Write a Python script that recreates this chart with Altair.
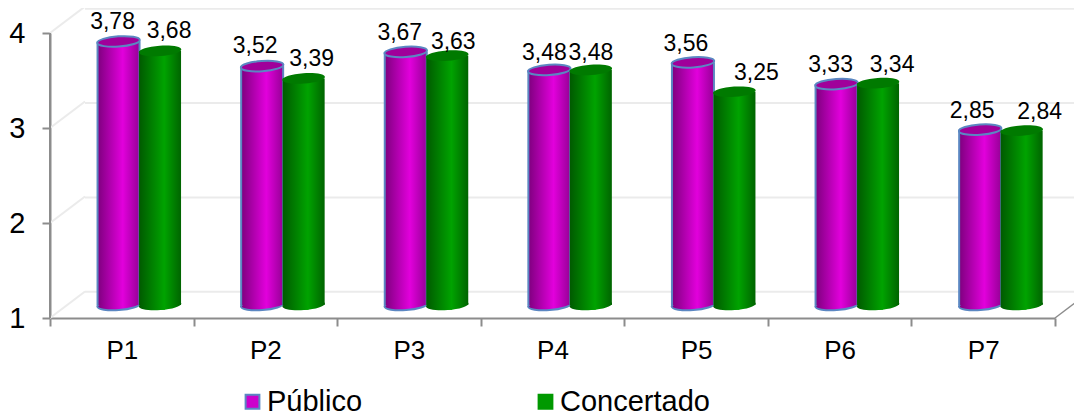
import altair as alt
import pandas as pd

categories = ["P1", "P2", "P3", "P4", "P5", "P6", "P7"]
publico = [3.78, 3.52, 3.67, 3.48, 3.56, 3.33, 2.85]
concertado = [3.68, 3.39, 3.63, 3.48, 3.25, 3.34, 2.84]
y_ticks = [1, 2, 3, 4]
series_names = ["Público", "Concertado"]

# layout (pixels inside the plot area)
W, H = 1024, 310
STEP = 143.6
FONT = "Liberation Sans"
GREY = "#8C8C8C"
OUTLINE = "#5B87C2"
pub_dx = [-6, -7, -6, -5, -7, -6, -8]
con_dx = [9, 8, 6, 0, 22, 14, 18]
pub_dy = [12, 13, 12, 10, 11, 12, 12]
con_dy = [13, 12, 7, 10, 12, 11, 12]


def grad(edge_l, mid, edge_r):
    return alt.LinearGradient(
        gradient="linear", x1=0, x2=1, y1=0, y2=0,
        stops=[alt.GradientStop(offset=0, color=edge_l),
               alt.GradientStop(offset=0.6, color=mid),
               alt.GradientStop(offset=1, color=edge_r)])


rows = []
for s, vals, shift, dxs, dys in [("Público", publico, -20.75, pub_dx, pub_dy),
                                 ("Concertado", concertado, 20.75, con_dx, con_dy)]:
    for i, v in enumerate(vals):
        c = i + 0.5 + (17.5 + shift) / STEP
        rows.append(dict(cat=categories[i], series=s, v=v, base=1, c=c,
                         l=c - 21 / STEP, r=c + 21 / STEP,
                         lx=c + dxs[i] / STEP,
                         ly=v + dys[i] / 94.8,
                         label=f"{v:.2f}".replace(".", ",")))
df = pd.DataFrame(rows)
pub = df[df.series == "Público"]
con = df[df.series == "Concertado"]

xs = alt.Scale(domain=[0, W / STEP], range=[0, W], nice=False)
front = alt.Scale(domain=[1, 4], range=[310, 25], nice=False)
bar_y = alt.Scale(domain=[1, 4], range=[297, 12.6], nice=False)
wall = alt.Scale(domain=[1, 4], range=[283.7, 0.8], nice=False)
ELL = "M-1,0A1,0.24,0,1,1,1,0A1,0.24,0,1,1,-1,0Z"

ticks = pd.DataFrame({"t": y_ticks})
ticks["t2"] = ticks["t"] + 26.5 / 95
ticks["top"] = 4

legend = alt.Legend(title=None, orient="none", legendX=188, legendY=379, direction="horizontal",
                    columns=2, columnPadding=168, labelFontSize=29, labelFont=FONT,
                    labelColor="#000", symbolSize=190, symbolStrokeWidth=2, symbolType="square",
                    labelOffset=0)

layers = []
# back wall
layers.append(alt.Chart(ticks).mark_rule(color="#EBEBEB", strokeWidth=2).encode(
    x=alt.value(35), x2=alt.value(W),
    y=alt.Y("t:Q", scale=wall, axis=None)))
# side wall diagonals
layers.append(alt.Chart(ticks).mark_rule(color="#EBEBEB", strokeWidth=2).encode(
    x=alt.value(0), x2=alt.value(35),
    y=alt.Y("t:Q", scale=front, axis=None), y2="t2:Q"))
# floor right diagonal
layers.append(alt.Chart(ticks[ticks.t == 1]).mark_rule(color=GREY, strokeWidth=1.5).encode(
    x=alt.value(1005), x2=alt.value(W + 16),
    y=alt.Y("t:Q", scale=front, axis=None), y2="t2:Q"))
# axes
layers.append(alt.Chart(ticks).mark_rule(opacity=0).encode(
    x=alt.X("cat:N", scale=alt.Scale(domain=categories, range=[0, 1005], paddingInner=0, paddingOuter=0),
            axis=alt.Axis(title=None, tickBand="extent", labelAngle=0, labelFontSize=26, labelFont=FONT,
                          labelColor="#000", labelPadding=11, domainColor=GREY, tickColor=GREY,
                          domainWidth=2, tickWidth=2, tickSize=8, grid=False)),
    y=alt.Y("t:Q", scale=front,
            axis=alt.Axis(title=None, values=y_ticks, format="d", labelFontSize=29, labelFont=FONT,
                          labelColor="#000", labelPadding=17, domainColor=GREY, tickColor=GREY,
                          domainWidth=2, tickWidth=2, tickSize=8, grid=False)),
).transform_calculate(cat="'P1'"))
# y axis line
layers.append(alt.Chart(ticks[ticks.t == 1]).mark_rule(color=GREY, strokeWidth=2).encode(
    x=alt.value(0),
    y=alt.Y("t:Q", scale=front, axis=None), y2="top:Q"))
# legend carrier, hidden behind the bars
layers.append(alt.Chart(df).mark_square(size=60, opacity=1, strokeWidth=2).encode(
    x=alt.X("c:Q", scale=xs, axis=None),
    y=alt.Y("base:Q", scale=bar_y, axis=None),
    fill=alt.Fill("series:N", scale=alt.Scale(domain=series_names, range=["#CC00CC", "#009900"]), legend=legend),
    stroke=alt.Stroke("series:N", scale=alt.Scale(domain=series_names, range=[OUTLINE, "#009900"]), legend=legend),
))


def ellipse(data, fill, stroke, field):
    kw = dict(stroke=stroke, strokeWidth=2) if stroke else dict(strokeWidth=0)
    return alt.Chart(data).mark_point(shape=ELL, size=1815, angle=356, filled=True, fill=fill,
                                      opacity=1, **kw).encode(
        x=alt.X("c:Q", scale=xs, axis=None),
        y=alt.Y(f"{field}:Q", scale=bar_y, axis=None))


for data, g, top, stroke in [
    (pub, grad("#7E007E", "#E200DC", "#960096"), "#A0009A", OUTLINE),
    (con, grad("#005A00", "#00A300", "#006400"), "#007A00", None),
]:
    layers.append(ellipse(data, g, stroke, "base"))
    layers.append(alt.Chart(data).mark_bar(fill=g, stroke=None).encode(
        x=alt.X("l:Q", scale=xs, axis=None), x2="r:Q",
        y=alt.Y("v:Q", scale=bar_y, axis=None), y2="base:Q"))
    if stroke:
        for edge in ["l", "r"]:
            layers.append(alt.Chart(data).mark_rule(color=stroke, strokeWidth=2).encode(
                x=alt.X(f"{edge}:Q", scale=xs, axis=None),
                y=alt.Y("v:Q", scale=bar_y, axis=None), y2="base:Q"))
    layers.append(ellipse(data, top, stroke, "v"))

layers.append(alt.Chart(df).mark_text(font=FONT, fontSize=23, color="#000", baseline="alphabetic").encode(
    x=alt.X("lx:Q", scale=xs, axis=None),
    y=alt.Y("ly:Q", scale=bar_y, axis=None),
    text="label:N"))

chart = alt.layer(*layers).resolve_scale(x="independent", y="independent").properties(
    width=W, height=H,
    autosize=alt.AutoSizeParams(type="none"),
    padding={"left": 42, "top": 0, "right": 0, "bottom": 100},
    background="white",
).configure_view(stroke=None)

chart.save("out.html", embed_options={"renderer": "svg", "actions": False})
